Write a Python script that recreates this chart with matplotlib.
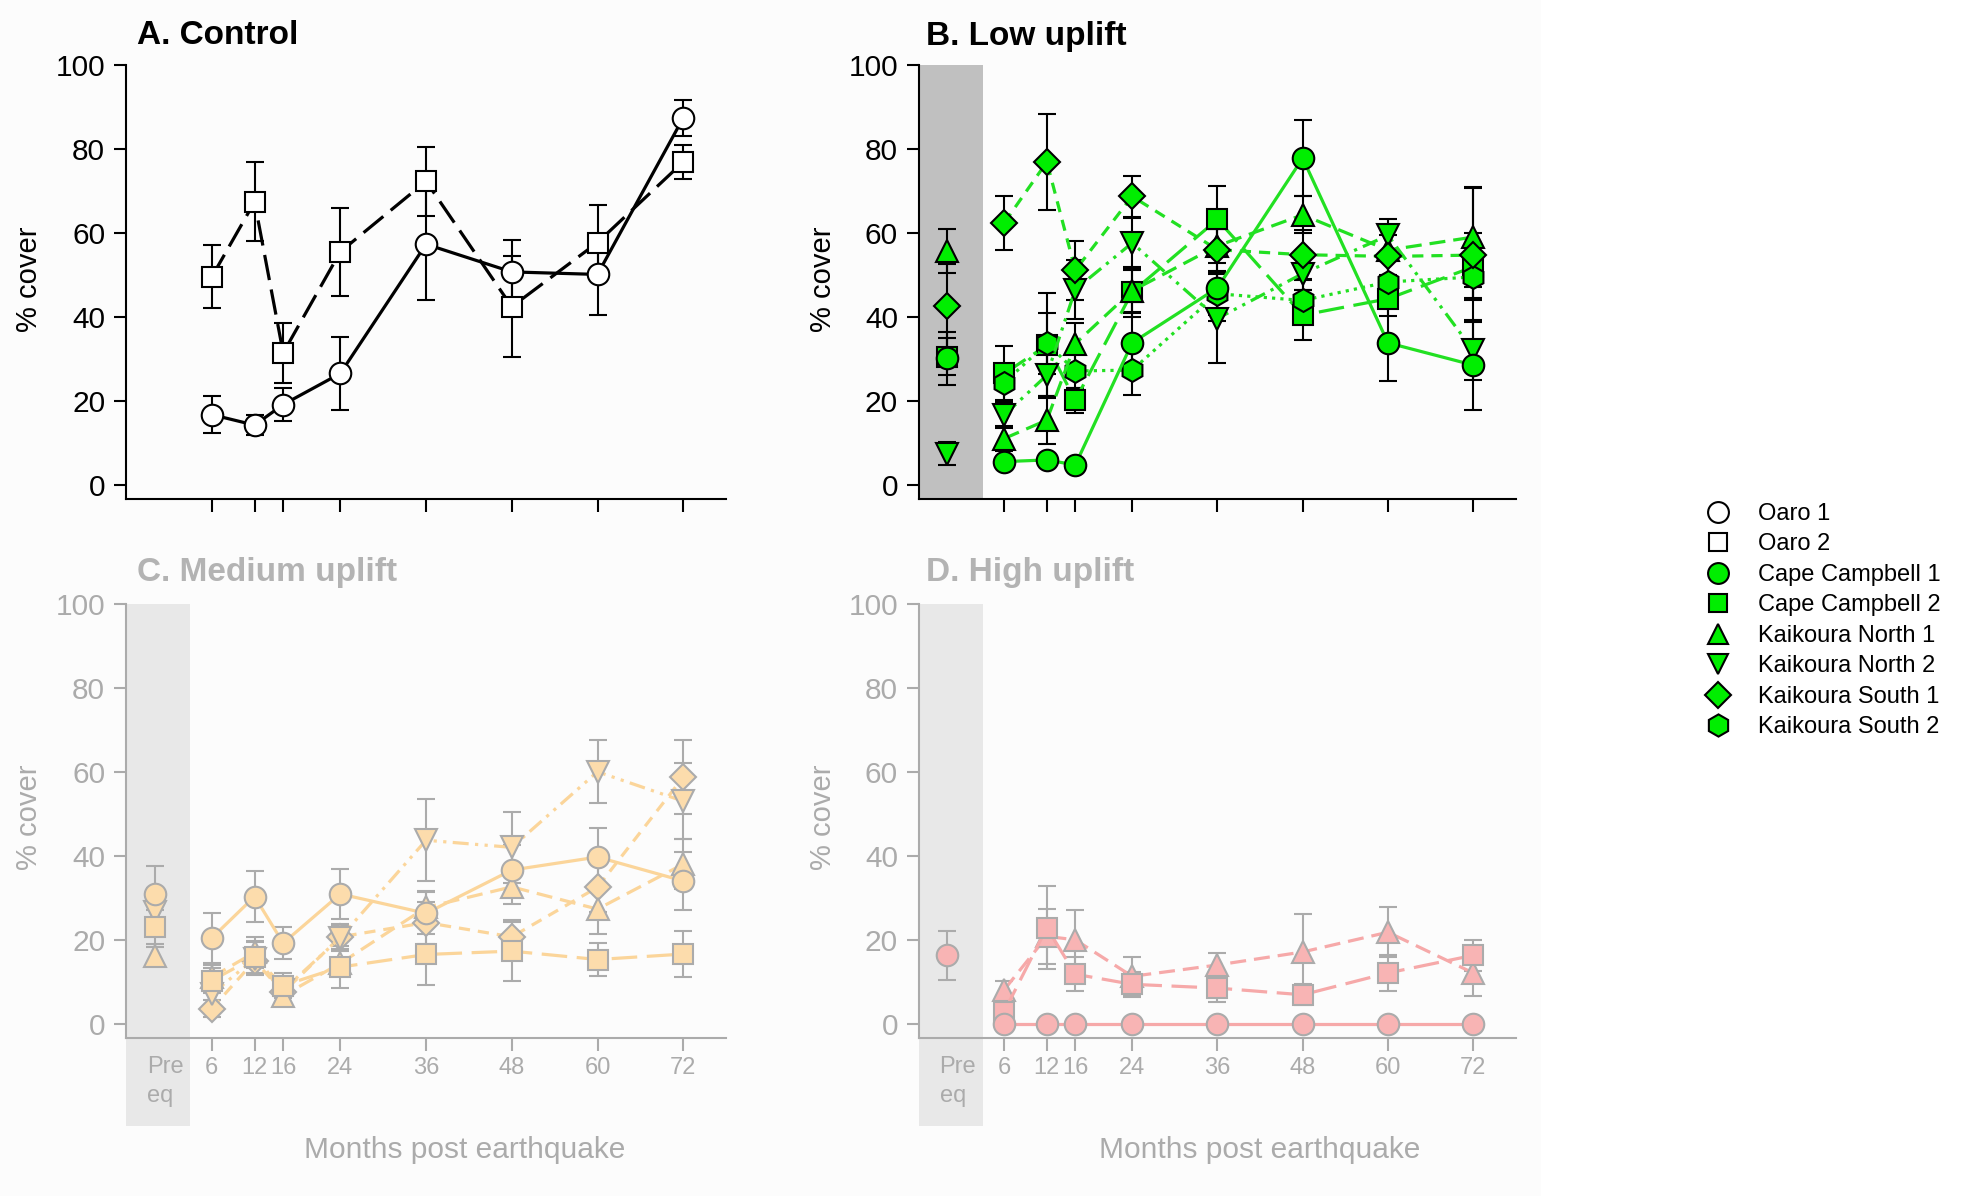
#
# Kelp / algal % cover after the earthquake: control and three uplift classes
#

import matplotlib.pyplot as plt
import numpy as np
from matplotlib.lines import Line2D
from matplotlib.patches import Rectangle
from matplotlib.transforms import blended_transform_factory

plt.rcParams['font.family'] = ['Liberation Sans', 'DejaVu Sans']

nan = np.nan

PRE = -2  # x position of the pre-earthquake survey
months = [6, 12, 16, 24, 36, 48, 60, 72]
month_labels = ['6', '12', '16', '24', '36', '48', '60', '72']

# A. Control (no pre-eq survey)
oaro1 = [16.8, 14.3, 19.2, 26.6, 57.4, 50.8, 50.2, 87.5]
oaro1_err = [4.5, 2.4, 4.0, 8.8, 13.4, 7.7, 9.6, 4.2]
oaro2 = [49.6, 67.5, 31.5, 55.6, 72.4, 42.5, 57.8, 77.0]
oaro2_err = [7.5, 9.4, 7.2, 10.5, 8.2, 12.0, 9.0, 4.0]

# B. Low uplift -> first value is the pre-eq survey
low_cc1 = [30.2, 5.6, 6.0, 4.8, 33.9, 47.0, 77.9, 33.9, 28.6]
low_cc1_err = [6.4, 1.0, 1.0, 1.0, 7.0, 8.0, 9.0, 9.0, 10.7]
low_cc2 = [30.6, 26.6, 33.3, 20.2, 46.0, 63.3, 40.5, 44.4, 52.0]
low_cc2_err = [4.4, 6.5, 12.5, 3.0, 6.0, 8.0, 6.0, 4.0, 8.0]
low_kn1 = [55.8, 11.1, 15.5, 33.7, 46.3, 57.0, 64.4, 56.0, 59.1]
low_kn1_err = [5.3, 3.0, 5.7, 5.0, 5.0, 4.0, 4.4, 6.0, 12.0]
low_kn2 = [7.5, 16.7, 26.2, 46.6, 57.7, 39.7, 50.4, 59.5, 32.1]
low_kn2_err = [2.8, 3.0, 5.0, 7.0, 6.0, 10.7, 4.0, 4.0, 7.0]
low_ks1 = [42.6, 62.5, 77.0, 51.2, 68.8, 56.1, 54.9, 54.5, 54.8]
low_ks1_err = [10.0, 6.5, 11.5, 7.0, 4.8, 5.0, 6.0, 5.0, 16.0]
low_ks2 = [nan, 24.4, 33.8, 27.2, 27.4, 45.6, 44.0, 48.4, 49.6]
low_ks2_err = [nan, 4.0, 7.3, 4.0, 6.0, 5.0, 5.0, 5.0, 5.0]

# C. Medium uplift
med_circ = [31.0, 20.4, 30.3, 19.2, 30.9, 26.3, 36.6, 39.7, 34.0]
med_circ_err = [6.6, 6.0, 6.0, 3.8, 6.0, 5.0, 6.0, 7.0, 7.0]
med_sq = [23.0, 10.3, 15.8, 9.1, 13.5, 16.5, 17.3, 15.3, 16.6]
med_sq_err = [4.0, 3.0, 4.0, 3.0, 5.0, 7.2, 7.0, 4.0, 5.5]
med_up = [16.2, 11.1, 17.0, 6.7, 14.4, 27.7, 32.6, 27.3, 38.0]
med_up_err = [2.0, 3.0, 3.7, 2.0, 3.0, 4.0, 4.0, 6.0, 6.0]
med_dn = [26.7, 7.1, 15.5, 8.0, 20.5, 43.7, 42.0, 60.0, 53.0]
med_dn_err = [5.6, 3.0, 4.0, 3.0, 3.0, 9.7, 8.5, 7.5, 9.0]
med_dia = [nan, 3.6, 15.0, 7.5, 20.7, 24.1, 20.7, 32.5, 58.7]
med_dia_err = [nan, 2.0, 3.0, 3.0, 3.0, 5.0, 4.0, 6.0, 8.8]

# D. High uplift
high_circ = [16.3, 0, 0, 0, 0, 0, 0, 0, 0]
high_circ_err = [5.9, 0, 0, 0, 0, 0, 0, 0, 0]
high_sq = [nan, 2.9, 22.9, 11.8, 9.4, 8.5, 6.9, 12.1, 16.3]
high_sq_err = [nan, 2.0, 9.8, 4.0, 3.0, 3.4, 2.5, 4.2, 3.7]
high_up = [nan, 8.1, 20.8, 20.0, 11.3, 14.0, 17.1, 21.8, 12.1]
high_up_err = [nan, 2.0, 6.6, 7.0, 4.6, 2.8, 9.0, 6.0, 5.6]

legend_labels = ['Oaro 1', 'Oaro 2', 'Cape Campbell 1', 'Cape Campbell 2',
                 'Kaikoura North 1', 'Kaikoura North 2', 'Kaikoura South 1', 'Kaikoura South 2']

# marker, linestyle, markersize
SOLID = '-'
LONG = (0, (8, 3))
DASH = (0, (5, 2.5))
SHORT = (0, (3.5, 2.5))
DADOT = (0, (5, 2, 1, 2, 1, 2))
DOT = (0, (1, 1.6))
STY = {
    'circ': ('o', SOLID, 15.5),
    'sq': ('s', LONG, 14),
    'up': ('^', DASH, 15.5),
    'dn': ('v', DADOT, 15.5),
    'dia': ('D', SHORT, 13.5),
    'hex': ('h', DOT, 16.5),
}

GREEN = '#00ee00'
GREEN_LINE = '#22e022'
ORANGE = '#fcdcac'
ORANGE_LINE = '#fbd59a'
PINK = '#f8b4b4'
PINK_LINE = '#f6a9a9'
FADE = '#ababab'


def draw(ax, vals, errs, key, face, line, edge, with_pre=True):
    marker, ls, ms = STY[key]
    common = dict(fmt=marker, mfc=face, mec=edge, ms=ms, mew=1.5, ecolor=edge,
                  elinewidth=1.5, capsize=6.5, capthick=1.5, clip_on=False)
    if with_pre:
        if not np.isnan(vals[0]):
            ax.errorbar([PRE], [vals[0]], yerr=[errs[0]], linestyle='none', **common)
        vals, errs = vals[1:], errs[1:]
    ax.errorbar(months, vals, yerr=errs, linestyle=ls, color=line, lw=2.3, **common)


def style_axes(ax, col, band=None, labels=False):
    ax.set_xlim(-6, 78)
    ax.set_ylim(-3.3, 100)
    for s in ['top', 'right']:
        ax.spines[s].set_visible(False)
    for s in ['left', 'bottom']:
        ax.spines[s].set_color(col)
        ax.spines[s].set_linewidth(1.5)
    ax.set_yticks([0, 20, 40, 60, 80, 100])
    ax.set_xticks(months)
    ax.tick_params(axis='both', colors=col, width=1.5, length=9, direction='out')
    ax.tick_params(axis='y', labelsize=21.5, labelcolor=col, pad=6)
    if labels:
        ax.set_xticklabels(month_labels)
        ax.tick_params(axis='x', labelsize=17, labelcolor=col, pad=5)
    else:
        ax.set_xticklabels([])
    ax.set_ylabel('% cover', fontsize=21, color=col)
    ax.yaxis.set_label_coords(-0.138, 0.507)
    ax.patch.set_visible(False)
    if band is not None:
        tr = blended_transform_factory(ax.transData, ax.transAxes)
        lo = -0.203 if labels else 0
        ax.add_patch(Rectangle((-6, lo), 9, 1 - lo, transform=tr, facecolor=band,
                               edgecolor='none', zorder=0, clip_on=False))
    if labels:
        tr = blended_transform_factory(ax.transData, ax.transAxes)
        ax.text(-3.1, -0.068, 'Pre', transform=tr, ha='left', va='center', fontsize=17, color=col)
        ax.text(-3.1, -0.135, 'eq', transform=tr, ha='left', va='center', fontsize=17, color=col)
        ax.set_xlabel('Months post earthquake', fontsize=21.5, color=col)
        ax.xaxis.set_label_coords(0.565, -0.227)


fig = plt.figure(figsize=(19.72, 11.96), dpi=100)
# very faint backdrop behind the four panels
fig.patches.append(Rectangle((0, 0), 1541 / 1972, 1, transform=fig.transFigure,
                             facecolor='#fcfcfc', edgecolor='none', zorder=-10))

axA = fig.add_axes([0.0639, 0.5828, 0.3043, 0.3625])
axB = fig.add_axes([0.4660, 0.5828, 0.3027, 0.3625])
axC = fig.add_axes([0.0639, 0.1324, 0.3043, 0.3628])
axD = fig.add_axes([0.4660, 0.1324, 0.3027, 0.3628])

# A
style_axes(axA, 'black')
draw(axA, oaro2, oaro2_err, 'sq', 'white', 'black', 'black', with_pre=False)
draw(axA, oaro1, oaro1_err, 'circ', 'white', 'black', 'black', with_pre=False)

# B
style_axes(axB, 'black', band='#c0c0c0')
draw(axB, low_cc2, low_cc2_err, 'sq', GREEN, GREEN_LINE, 'black')
draw(axB, low_ks2, low_ks2_err, 'hex', GREEN, GREEN_LINE, 'black')
draw(axB, low_kn1, low_kn1_err, 'up', GREEN, GREEN_LINE, 'black')
draw(axB, low_kn2, low_kn2_err, 'dn', GREEN, GREEN_LINE, 'black')
draw(axB, low_ks1, low_ks1_err, 'dia', GREEN, GREEN_LINE, 'black')
draw(axB, low_cc1, low_cc1_err, 'circ', GREEN, GREEN_LINE, 'black')

# C
style_axes(axC, FADE, band='#e8e8e8', labels=True)
draw(axC, med_dia, med_dia_err, 'dia', ORANGE, ORANGE_LINE, FADE)
draw(axC, med_dn, med_dn_err, 'dn', ORANGE, ORANGE_LINE, FADE)
draw(axC, med_up, med_up_err, 'up', ORANGE, ORANGE_LINE, FADE)
draw(axC, med_sq, med_sq_err, 'sq', ORANGE, ORANGE_LINE, FADE)
draw(axC, med_circ, med_circ_err, 'circ', ORANGE, ORANGE_LINE, FADE)

# D
style_axes(axD, FADE, band='#e8e8e8', labels=True)
axD.xaxis.set_label_coords(0.57, -0.227)
draw(axD, high_up, high_up_err, 'up', PINK, PINK_LINE, FADE)
draw(axD, high_sq, high_sq_err, 'sq', PINK, PINK_LINE, FADE)
draw(axD, high_circ, high_circ_err, 'circ', PINK, PINK_LINE, FADE)

# panel titles
fig.text(137 / 1972, 1 - 36 / 1196, 'A. Control', fontsize=24, fontweight='bold', va='center')
fig.text(926 / 1972, 1 - 36 / 1196, 'B. Low uplift', fontsize=24, fontweight='bold', va='center')
fig.text(137 / 1972, 1 - 573 / 1196, 'C. Medium uplift', fontsize=24, fontweight='bold',
         va='center', color='#b3b3b3')
fig.text(926 / 1972, 1 - 573 / 1196, 'D. High uplift', fontsize=24, fontweight='bold',
         va='center', color='#b3b3b3')

# legend
leg_marks = [('o', 'white', 15), ('s', 'white', 13), ('o', GREEN, 15), ('s', GREEN, 13),
             ('^', GREEN, 15), ('v', GREEN, 15), ('D', GREEN, 13), ('h', GREEN, 16)]
handles = [Line2D([], [], marker=m, ls='none', mfc=f, mec='black', ms=s, mew=1.5)
           for m, f, s in leg_marks]
fig.legend(handles, legend_labels, loc='upper left', bbox_to_anchor=(0.865, 0.5795),
           frameon=False, fontsize=17, labelspacing=0.36, handletextpad=1.2,
           handlelength=1.0, borderpad=0, borderaxespad=0)

fig.savefig('out.png', dpi=100, facecolor='white')
